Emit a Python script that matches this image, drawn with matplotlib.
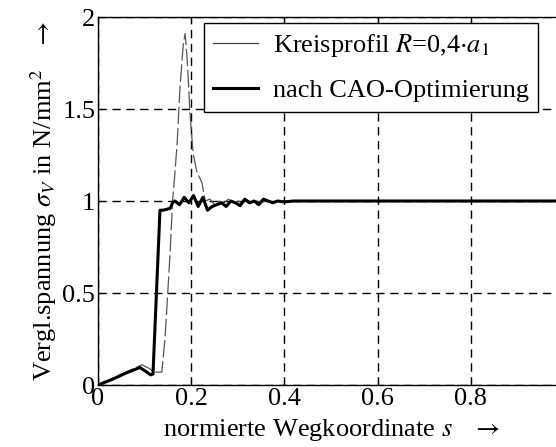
import matplotlib
matplotlib.use("Agg")
import matplotlib.pyplot as plt
from matplotlib.lines import Line2D

plt.rcParams['font.family'] = ['Liberation Serif', 'DejaVu Serif']
plt.rcParams['mathtext.fontset'] = 'stix'

# normierte Wegkoordinate s / Vergleichsspannung
s_kreis = [0, 0.03, 0.06, 0.094, 0.11, 0.122, 0.137, 0.144, 0.155, 0.16, 0.165,
           0.17, 0.176, 0.183, 0.187, 0.19, 0.193, 0.197, 0.204, 0.212, 0.223,
           0.23, 0.24, 0.25, 0.26, 0.27, 0.28, 0.29, 0.30, 0.31, 0.32, 0.33,
           0.34, 0.35, 0.36, 0.37, 0.38, 0.40, 0.42, 0.5, 0.6, 0.7, 0.8, 0.9, 1.0]
sig_kreis = [0, 0.035, 0.07, 0.11, 0.09, 0.07, 0.07, 0.26, 0.73, 1.0, 1.15,
             1.32, 1.62, 1.85, 1.91, 1.82, 1.70, 1.49, 1.26, 1.16, 1.10,
             1.0, 1.01, 0.98, 1.0, 0.99, 1.01, 0.985, 1.0, 0.99, 1.005, 0.995,
             1.0, 0.99, 1.0, 1.0, 0.995, 1.0, 1.0, 1.0, 1.0, 1.0, 1.0, 1.0, 1.0]

s_cao = [0, 0.03, 0.06, 0.09, 0.105, 0.113, 0.118, 0.133, 0.14, 0.155, 0.16,
         0.165, 0.175, 0.185, 0.195, 0.205, 0.215, 0.225, 0.235, 0.245, 0.255,
         0.265, 0.275, 0.285, 0.295, 0.305, 0.315, 0.325, 0.335, 0.345, 0.355,
         0.365, 0.375, 0.385, 0.40, 0.42, 0.5, 0.6, 0.7, 0.8, 0.9, 1.0]
sig_cao = [0, 0.03, 0.065, 0.095, 0.07, 0.055, 0.06, 0.95, 0.95, 0.96, 0.99,
           1.0, 0.98, 1.02, 0.99, 1.03, 0.97, 1.02, 0.95, 0.97, 0.98,
           0.99, 0.97, 1.0, 0.99, 0.975, 1.01, 0.99, 1.0, 0.98, 1.01,
           1.0, 0.99, 1.0, 0.995, 1.0, 1.0, 1.0, 1.0, 1.0, 1.0, 1.0]

xticks = [0, 0.2, 0.4, 0.6, 0.8, 1]
xticklabels = ['0', '0.2', '0.4', '0.6', '0.8', '1']
yticks = [0, 0.5, 1, 1.5, 2]
yticklabels = ['0', '0.5', '1', '1.5', '2']

fig = plt.figure(figsize=(5.56, 4.47), dpi=100)
ax = fig.add_axes([98 / 556, 62 / 447, 466 / 556, 368 / 447])

# thin line looks broken in the scan
ax.plot(s_kreis, sig_kreis, color='#555555', lw=0.9, dashes=(14, 3), zorder=3)
ax.plot(s_cao, sig_cao, color='black', lw=2.2, zorder=4)

ax.set_xlim(0, 1)
ax.set_ylim(0, 2)
ax.set_xticks(xticks)
ax.set_xticklabels(xticklabels)
ax.set_yticks(yticks)
ax.set_yticklabels(yticklabels)
ax.tick_params(direction='in', top=True, right=True, labelsize=19, length=4, pad=2)
for sp in ax.spines.values():
    sp.set_linewidth(1.0)

ax.grid(True, color='black', lw=1.0, dashes=(6, 4))

ax.set_xlabel(r'normierte Wegkoordinate $s$   $\rightarrow$', fontsize=19, labelpad=5)
ax.set_ylabel(r'Vergl.spannung $\sigma_V$ in N/mm$^2$   $\rightarrow$', fontsize=19, labelpad=2)

handles = [Line2D([], [], color='#444444', lw=0.9),
           Line2D([], [], color='black', lw=2.2)]
labels = [r'Kreisprofil $R$=0,4$\cdot a_1$', 'nach CAO-Optimierung']
leg = ax.legend(handles, labels, loc='upper left', bbox_to_anchor=(0.2275, 0.984),
                fontsize=19, frameon=True, fancybox=False, framealpha=1,
                edgecolor='black', handlelength=1.7, handletextpad=0.55,
                borderpad=0.35, labelspacing=0.75, borderaxespad=0)
leg.get_frame().set_linewidth(1.0)
leg.set_zorder(5)

fig.savefig('out.png', dpi=100)
